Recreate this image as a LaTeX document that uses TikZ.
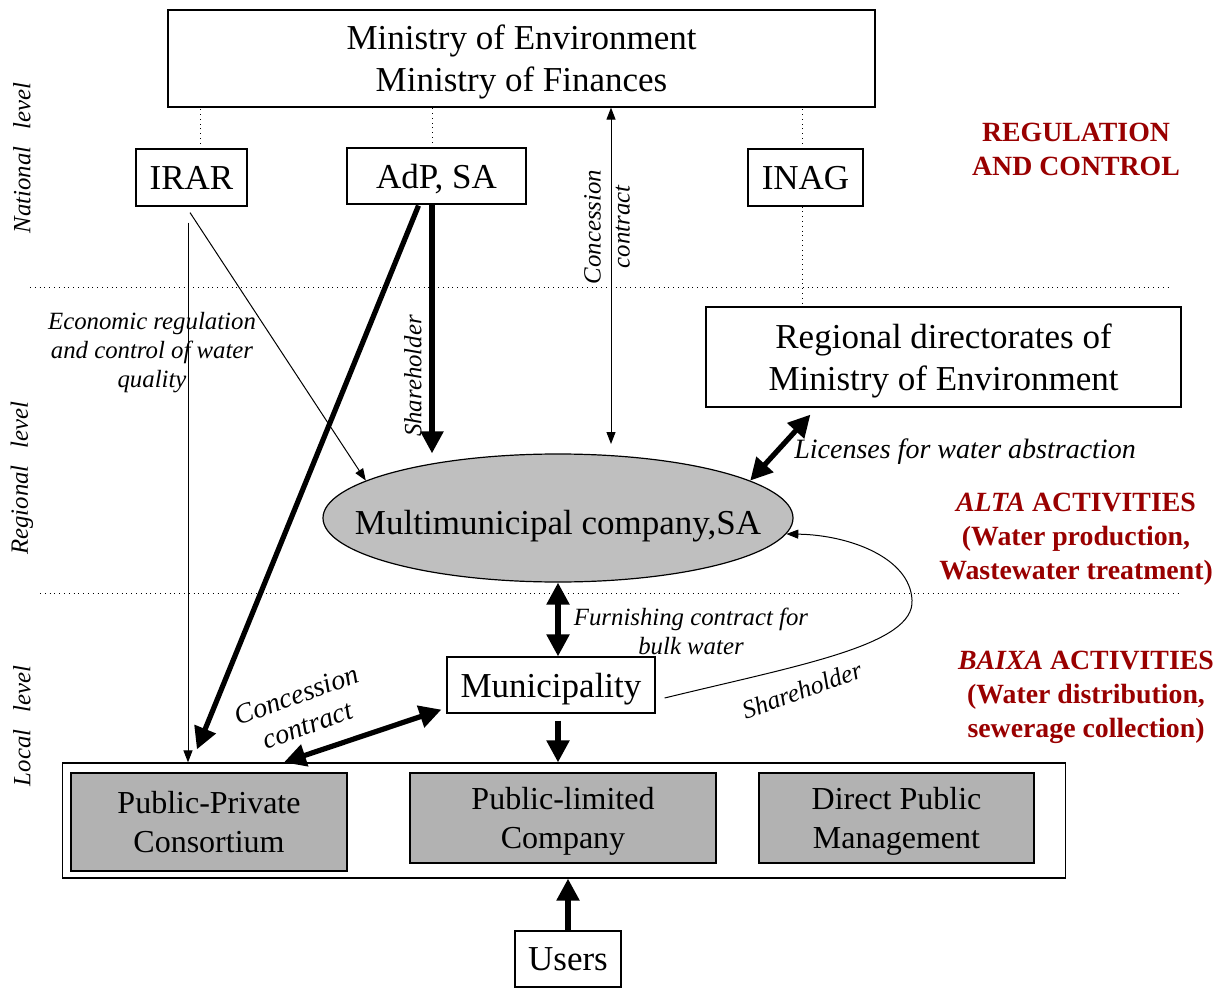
\documentclass[tikz,border=0pt]{standalone}
\usepackage{fontspec}
\setmainfont{Liberation Serif}
\usetikzlibrary{arrows.meta,shapes.geometric,calc}
\definecolor{darkred}{RGB}{153,0,0}
\definecolor{ellgray}{gray}{0.75}
\definecolor{boxgray}{gray}{0.70}
\newcommand{\boxsize}{\fontsize{17.5}{21}\selectfont}
\newcommand{\innersize}{\fontsize{16}{19.5}\selectfont}
\newcommand{\labsize}{\fontsize{12.4}{14.5}\selectfont}
\newcommand{\biglabsize}{\fontsize{14}{16}\selectfont}
\newcommand{\redsize}{\fontsize{13.9}{17}\selectfont}

\begin{document}
\begin{tikzpicture}[x=0.5pt, y=-0.5pt,
    box/.style={draw, line width=0.6pt, inner sep=0pt, align=center, font=\boxsize, text depth=0pt},
    graybox/.style={box, fill=boxgray, font=\innersize},
    lab/.style={inner sep=0pt, align=center, font=\labsize\itshape},
    redlab/.style={inner sep=0pt, align=center, text=darkred, font=\redsize\bfseries},
    slimarrow/.style={line width=0.5pt, -{Triangle[length=6pt,width=4.5pt]}},
    slimboth/.style={line width=0.5pt, {Triangle[length=6pt,width=4.5pt]}-{Triangle[length=6pt,width=4.5pt]}},
    fatarrow/.style={line width=2.6pt, -{Triangle[length=11pt,width=11pt]}},
    fatboth/.style={line width=2.6pt, {Triangle[length=11pt,width=11pt]}-{Triangle[length=11pt,width=11pt]}},
    dotline/.style={dotted, line width=0.4pt}]
    \useasboundingbox (0,0) rectangle (1224,988);

    % National level
    \node[box, minimum width=353.5pt, minimum height=48.5pt] (min) at (521.5,58.5) {Ministry of Environment\\Ministry of Finances};
    \node[box, minimum width=55.5pt, minimum height=28.5pt] (irar) at (191.5,177.5) {IRAR};
    \node[box, minimum width=89.5pt, minimum height=28pt] (adp) at (436.5,176) {AdP, SA};
    \node[box, minimum width=57.5pt, minimum height=28.5pt] (inag) at (805.5,177.5) {INAG};

    % Regional level
    \node[box, minimum width=237.5pt, minimum height=50pt] (regdir) at (943.5,357) {Regional directorates of\\Ministry of Environment};
    \node[ellipse, draw, line width=0.6pt, fill=ellgray, inner sep=0pt,
          minimum width=235pt, minimum height=64pt] (mmc) at (558,518) {};
    \node[font=\boxsize, text depth=0pt] (mmctext) at (558,522) {Multimunicipal company,SA};

    % Local level
    \node[box, minimum width=104pt, minimum height=28pt] (muni) at (551,685) {Municipality};
    \node[box, minimum width=501.5pt, minimum height=57.5pt] (outer) at (564,820.5) {};
    \node[graybox, minimum width=138pt, minimum height=49pt] (ppc) at (209,822) {Public-Private\\Consortium};
    \node[graybox, minimum width=153pt, minimum height=45pt] (plc) at (563,818) {Public-limited\\Company};
    \node[graybox, minimum width=137.5pt, minimum height=45pt] (dpm) at (896.5,818) {Direct Public\\Management};
    \node[box, minimum width=53pt, minimum height=28pt] (users) at (568,959) {Users};

    % Level separators
    \coordinate (natL) at (30,287);
    \coordinate (natR) at (1170,287);
    \coordinate (regL) at (40,593);
    \coordinate (regR) at (1180,593);
    \draw[dotline] (natL) -- (natR);
    \draw[dotline] (regL) -- (regR);

    % Dotted links to the ministry
    \coordinate (irarT) at ($(irar.north)+(8.5,0)$);
    \coordinate (adpT) at ($(adp.north)+(-4.5,0)$);
    \coordinate (inagT) at ($(inag.north)+(-3.5,0)$);
    \coordinate (inagB) at ($(inag.south)+(-3.5,0)$);
    \draw[dotline] (irarT) -- (irarT |- min.south);
    \draw[dotline] (adpT) -- (adpT |- min.south);
    \draw[dotline] (inagT) -- (inagT |- min.south);
    \draw[dotline] (inagB) -- (inagB |- regdir.north);

    % IRAR
    \coordinate (irarA) at ($(irar.south)+(-3.5,16)$);
    \coordinate (irarB) at ($(irar.south)+(-1.5,6)$);
    \draw[slimarrow] (irarA) -- (irarA |- outer.north);
    \draw[slimarrow] (irarB) -- (mmc.169);

    % AdP, SA
    \coordinate (adpA) at ($(adp.south)+(-4.5,0)$);
    \coordinate (adpB) at ($(adp.south)+(-18,1)$);
    \coordinate (ppcTop) at ($(outer.north west)+(135,-13)$);
    \draw[fatarrow] (adpA) -- (adpA |- mmc.north);
    \draw[fatarrow] (adpB) -- (ppcTop);

    % Concession contract with the ministry
    \coordinate (ccBot) at (611,444);
    \draw[slimboth] (ccBot |- min.south) -- (ccBot);

    % Licenses
    \coordinate (regdirB) at ($(regdir.south west)+(105,7)$);
    \draw[fatboth] (mmc.11) -- (regdirB);

    % Municipality links
    \coordinate (muniB) at ($(mmc.south |- muni.south)+(0,7)$);
    \coordinate (muniSW) at ($(muni.south west)+(-5,-4)$);
    \coordinate (outerA) at ($(outer.north west)+(222,0)$);
    \coordinate (curveA) at ($(muni.east)+(9,13)$);
    \draw[fatboth] (mmc.south) -- (mmc.south |- muni.north);
    \draw[fatarrow] (muniB) -- (muniB |- outer.north);
    \draw[fatboth] (outerA) -- (muniSW);
    \draw[slimarrow] (curveA) .. controls (800,665) and (915,645) .. (912,600)
        .. controls (910,558) and (850,535) .. (mmc.-4);

    % Users
    \draw[fatarrow] (users.north) -- (users.north |- outer.south);

    % Connector labels
    \node[lab, rotate=90] (shlab) at (413,376) {Shareholder};
    \node[lab, rotate=90] (cclab) at (607,227) {Concession\\contract};
    \node[lab] (econlab) at (152,353) {Economic regulation\\and control of water\\quality};
    \node[lab, font=\biglabsize\itshape] (liclab) at (965,452) {Licenses for water abstraction};
    \node[lab] (furnlab) at (691,631) {Furnishing contract for\\bulk water};
    \node[lab, font=\biglabsize\itshape, rotate=20] (cclocal) at (302,710) {Concession\\contract};
    \node[lab, font=\fontsize{12.8}{15}\selectfont\itshape, rotate=20] (shcurve) at (802,690) {Shareholder};

    % Level names
    \node[lab, rotate=90] (natlab) at (22,158) {National\hspace{8.5pt}level};
    \node[lab, rotate=90] (reglab) at (22,478) {Regional\hspace{8.5pt}level};
    \node[lab, rotate=90] (loclab) at (22,726) {Local\hspace{8.5pt}level};

    % Activities
    \node[redlab] (reglabel) at (1076,149) {REGULATION\\AND CONTROL};
    \node[redlab] (alta) at (1076,539) {\textit{ALTA} ACTIVITIES\\(Water production,\\Wastewater treatment)};
    \node[redlab] (baixa) at (1086,697) {\textit{BAIXA} ACTIVITIES\\(Water distribution,\\sewerage collection)};
\end{tikzpicture}
\end{document}
